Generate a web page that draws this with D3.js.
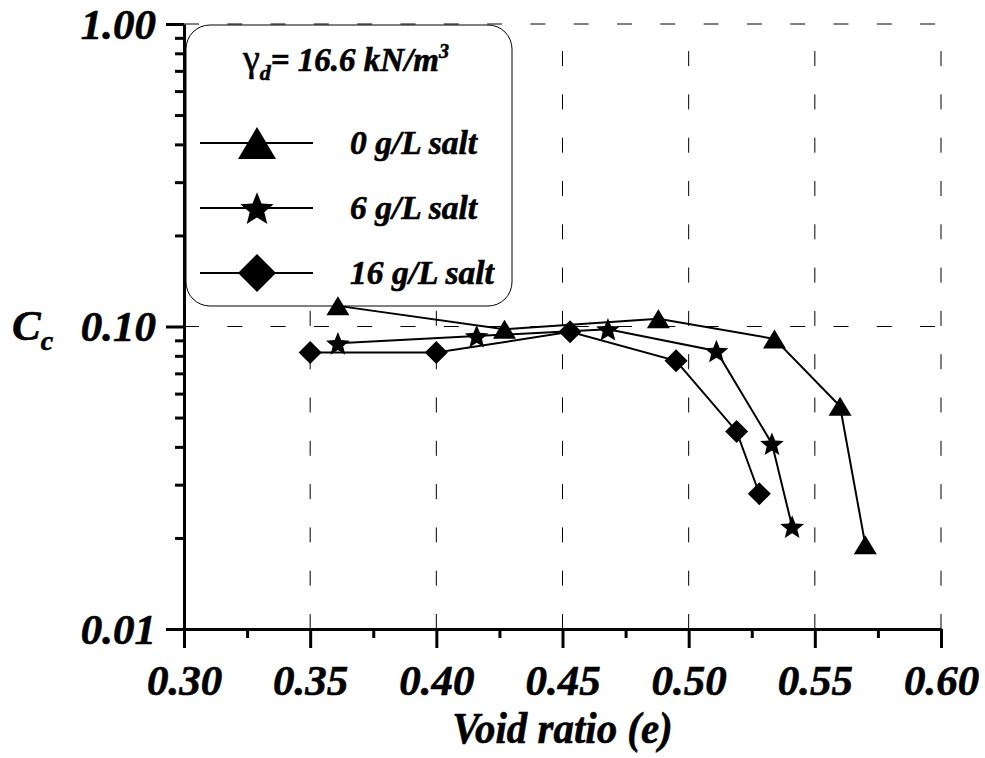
<!DOCTYPE html>
<html>
<head>
<meta charset="utf-8">
<script src="https://cdn.jsdelivr.net/npm/d3@7/dist/d3.min.js"></script>
<style>
  html, body { margin: 0; padding: 0; background: #fff; }
  svg { display: block; }
  text { font-family: "Liberation Serif", "Times New Roman", serif; font-weight: bold; font-style: italic; fill: #000; stroke: #000; stroke-width: 0.6px; }
</style>
</head>
<body>
<svg id="chart" width="985" height="758"></svg>
<script>
// Compression index Cc versus void ratio e, for three salt concentrations
const seriesNames = ["0 g/L salt", "6 g/L salt", "16 g/L salt"];
const seriesSymbols = ["triangle", "star", "diamond"];

const voidRatio0 = [0.361, 0.427, 0.488, 0.534, 0.560, 0.570];
const cc0        = [0.117, 0.098, 0.106, 0.091, 0.0545, 0.019];

const voidRatio6 = [0.361, 0.416, 0.468, 0.511, 0.533, 0.541];
const cc6        = [0.088, 0.093, 0.098, 0.083, 0.041, 0.0218];

const voidRatio16 = [0.350, 0.400, 0.453, 0.495, 0.519, 0.528];
const cc16        = [0.082, 0.082, 0.096, 0.077, 0.045, 0.028];

const xMajorTicks = [0.30, 0.35, 0.40, 0.45, 0.50, 0.55, 0.60];
const xMinorTicks = [0.325, 0.375, 0.425, 0.475, 0.525, 0.575];
const yMajorTicks = [0.01, 0.1, 1];
const yMinorTicks = [0.02, 0.03, 0.04, 0.05, 0.06, 0.07, 0.08, 0.09,
                     0.2, 0.3, 0.4, 0.5, 0.6, 0.7, 0.8, 0.9];
const xGridValues = [0.35, 0.40, 0.45, 0.50, 0.55, 0.60];
const yGridValues = [0.1, 1];

const xTitle = "Void ratio (e)";

const svg = d3.select("#chart");
const plotLeft = 184, plotRight = 941, plotTop = 24, plotBottom = 629;

const x = d3.scaleLinear().domain([0.30, 0.60]).range([plotLeft, plotRight]);
const y = d3.scaleLog().domain([0.01, 1]).range([plotBottom, plotTop]);

const dash = "15,28.3";

// dashed grid
const grid = svg.append("g").attr("stroke", "#000").attr("stroke-width", 1).attr("fill", "none")
  .attr("stroke-dasharray", dash);
grid.selectAll("line.gx").data(xGridValues).join("line").attr("class", "gx")
  .attr("x1", d => x(d)).attr("x2", d => x(d))
  .attr("y1", y(0.01)).attr("y2", y(1));
grid.selectAll("line.gy").data(yGridValues).join("line").attr("class", "gy")
  .attr("x1", x(0.30)).attr("x2", x(0.60))
  .attr("y1", d => y(d)).attr("y2", d => y(d));

// marker shapes
function markerPath(kind, s) {
  if (kind === "triangle") {
    const w = s.w, h = s.h;
    return `M0,${-h / 2}L${w / 2},${h / 2}L${-w / 2},${h / 2}Z`;
  }
  if (kind === "diamond") {
    const r = s.r;
    return `M0,${-r}L${r},0L0,${r}L${-r},0Z`;
  }
  const R = s.R, r = s.R * 0.44;
  const pts = [];
  for (let i = 0; i < 10; i++) {
    const a = -Math.PI / 2 + i * Math.PI / 5;
    const rr = i % 2 === 0 ? R : r;
    pts.push([rr * Math.cos(a), rr * Math.sin(a) + R * 0.1]);
  }
  return "M" + pts.map(p => p[0].toFixed(2) + "," + p[1].toFixed(2)).join("L") + "Z";
}
const plotSize = { triangle: { w: 23, h: 19 }, star: { R: 12.5 }, diamond: { r: 11.5 } };
const legendSize = { triangle: { w: 38, h: 32 }, star: { R: 17.5 }, diamond: { r: 19 } };

// legend box
const legend = svg.append("g");
legend.append("rect")
  .attr("x", 186).attr("y", 25).attr("width", 326).attr("height", 281)
  .attr("rx", 24).attr("ry", 24)
  .attr("fill", "#fff").attr("stroke", "#000").attr("stroke-width", 1);

const title = legend.append("text").attr("x", 243).attr("y", 71).attr("font-size", 33);
title.append("tspan").attr("font-style", "normal").attr("font-weight", "normal")
  .attr("font-size", 38).text("γ");
title.append("tspan").attr("font-size", 22).attr("dy", 9).text("d");
title.append("tspan").attr("dy", -9).text("= 16.6 kN/m");
title.append("tspan").attr("font-size", 20).attr("dy", -13).text("3");

const legendRows = [143, 208, 273];
seriesNames.forEach((name, i) => {
  const ly = legendRows[i];
  legend.append("line").attr("x1", 200).attr("x2", 313).attr("y1", ly).attr("y2", ly)
    .attr("stroke", "#000").attr("stroke-width", 2);
  legend.append("path").attr("d", markerPath(seriesSymbols[i], legendSize[seriesSymbols[i]]))
    .attr("transform", `translate(257,${ly})`).attr("fill", "#000");
  legend.append("text").attr("x", 350).attr("y", ly + 11).attr("font-size", 33.5).text(name);
});

// axes
const axisFont = 43;
const xAxis = svg.append("g").attr("transform", `translate(0,${plotBottom})`)
  .call(d3.axisBottom(x).tickValues(xMajorTicks).tickSize(19).tickSizeOuter(0)
    .tickFormat(d3.format(".2f")));
svg.append("g").attr("transform", `translate(0,${plotBottom})`)
  .call(d3.axisBottom(x).tickValues(xMinorTicks).tickSize(9).tickSizeOuter(0).tickFormat(""))
  .call(g => g.select(".domain").remove());
const yAxis = svg.append("g").attr("transform", `translate(${plotLeft},0)`)
  .call(d3.axisLeft(y).tickValues(yMajorTicks).tickSize(18).tickSizeOuter(0)
    .tickFormat(d3.format(".2f")));
svg.append("g").attr("transform", `translate(${plotLeft},0)`)
  .call(d3.axisLeft(y).tickValues(yMinorTicks).tickSize(9).tickSizeOuter(0).tickFormat(""))
  .call(g => g.select(".domain").remove());

svg.selectAll(".domain, .tick line").attr("stroke", "#000").attr("stroke-width", 3);
svg.selectAll(".tick text").attr("fill", "#000").attr("stroke", "#000").attr("stroke-width", 0.6)
  .style("font-family", '"Liberation Serif", "Times New Roman", serif')
  .style("font-weight", "bold").style("font-style", "italic")
  .attr("font-size", axisFont);
xAxis.selectAll(".tick text").attr("y", 66).attr("dy", 0);
yAxis.selectAll(".tick text").attr("x", -28).attr("dy", 14);

// axis titles
svg.append("text")
  .attr("transform", `translate(${(plotLeft + plotRight) / 2},743) scale(0.93,1)`)
  .attr("text-anchor", "middle").attr("font-size", 44).text(xTitle);
const yTitle = svg.append("text").attr("x", 12).attr("y", 340).attr("font-size", 43);
yTitle.append("tspan").text("C");
yTitle.append("tspan").attr("font-size", 28).attr("dy", 10).text("c");

// series
const seriesData = [
  voidRatio0.map((e, i) => ({ e, c: cc0[i] })),
  voidRatio6.map((e, i) => ({ e, c: cc6[i] })),
  voidRatio16.map((e, i) => ({ e, c: cc16[i] }))
];
const line = d3.line().x(d => x(d.e)).y(d => y(d.c));
seriesData.forEach((data) => {
  svg.append("path").datum(data).attr("d", line)
    .attr("fill", "none").attr("stroke", "#000").attr("stroke-width", 2);
});
seriesData.forEach((data, i) => {
  svg.append("g").selectAll("path").data(data).join("path")
    .attr("d", markerPath(seriesSymbols[i], plotSize[seriesSymbols[i]]))
    .attr("transform", d => `translate(${x(d.e)},${y(d.c)})`)
    .attr("fill", "#000");
});
</script>
</body>
</html>
